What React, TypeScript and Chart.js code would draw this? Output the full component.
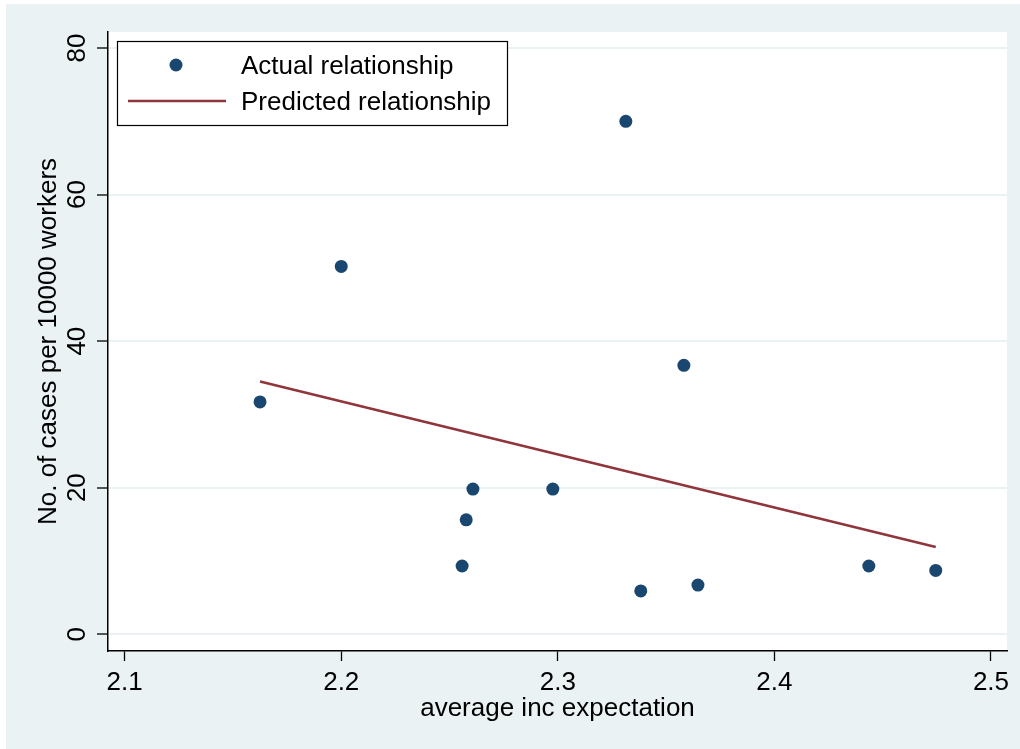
import React, { useEffect, useRef } from 'react';
import { Chart, registerables } from 'chart.js';

Chart.register(...registerables);

// ---- data ----
const xValues = [2.1625, 2.2, 2.3314, 2.3582, 2.2608, 2.2977, 2.2577, 2.2558, 2.3383, 2.3647, 2.4436, 2.4745];
const yValues = [31.7, 50.2, 70.0, 36.7, 19.8, 19.8, 15.6, 9.3, 5.9, 6.7, 9.3, 8.7];
const fitX = [2.1625, 2.4745];
const fitY = [34.5, 11.9];
const xTicks = [2.1, 2.2, 2.3, 2.4, 2.5];
const yTicks = [0, 20, 40, 60, 80];
const seriesLabels = ['Actual relationship', 'Predicted relationship'];
const xTitle = 'average inc expectation';
const yTitle = 'No. of cases per 10000 workers';

const FONT = '"Liberation Sans", Arial, Helvetica, sans-serif';
const FS = 26;
const NAVY = '#1a476f';
const MAROON = '#90353b';
const BG = '#eaf2f3';

const bgPlugin = {
  id: 'bgPlugin',
  beforeDraw(chart: any) {
    const { ctx, chartArea: a, width, height } = chart;
    ctx.save();
    ctx.fillStyle = '#ffffff';
    ctx.fillRect(0, 0, width, height);
    ctx.fillStyle = BG;
    ctx.fillRect(6, 4, width - 6, height - 4);
    ctx.fillStyle = '#ffffff';
    ctx.fillRect(a.left, a.top, a.right - a.left, a.bottom - a.top);
    ctx.restore();
  },
};

const yLabelPlugin = {
  id: 'yLabelPlugin',
  afterDraw(chart: any) {
    const { ctx } = chart;
    const ys = chart.scales.y;
    ctx.save();
    ctx.fillStyle = '#000000';
    ctx.font = `${FS}px ${FONT}`;
    ctx.textAlign = 'center';
    ctx.textBaseline = 'middle';
    ys.ticks.forEach((t: any) => {
      const py = ys.getPixelForValue(t.value);
      ctx.save();
      ctx.translate(78, py);
      ctx.rotate(-Math.PI / 2);
      ctx.fillText(String(t.value), 0, 0);
      ctx.restore();
    });
    ctx.restore();
  },
};

const legendPlugin = {
  id: 'boxLegend',
  afterDraw(chart: any) {
    const { ctx } = chart;
    const ds = chart.data.datasets;
    const left = 117.5, top = 41.5, right = 507.5, bottom = 125.5;
    ctx.save();
    ctx.fillStyle = '#ffffff';
    ctx.fillRect(left, top, right - left, bottom - top);
    ctx.strokeStyle = '#000000';
    ctx.lineWidth = 1.2;
    ctx.strokeRect(left, top, right - left, bottom - top);
    ctx.fillStyle = ds[0].backgroundColor;
    ctx.beginPath();
    ctx.arc(176, 65, 6.5, 0, Math.PI * 2);
    ctx.fill();
    ctx.strokeStyle = ds[1].borderColor;
    ctx.lineWidth = 2.5;
    ctx.beginPath();
    ctx.moveTo(128, 101);
    ctx.lineTo(226, 101);
    ctx.stroke();
    ctx.fillStyle = '#000000';
    ctx.font = `${FS}px ${FONT}`;
    ctx.textAlign = 'left';
    ctx.textBaseline = 'middle';
    ctx.fillText(ds[0].label, 241, 67);
    ctx.fillText(ds[1].label, 241, 103);
    ctx.restore();
  },
};

export default function App() {
  const ref = useRef<HTMLCanvasElement | null>(null);
  useEffect(() => {
    if (!ref.current) return;
    const chart = new Chart(ref.current, {
      type: 'scatter',
      data: {
        datasets: [
          {
            type: 'scatter',
            label: seriesLabels[0],
            data: xValues.map((x, i) => ({ x, y: yValues[i] })),
            backgroundColor: NAVY,
            borderColor: NAVY,
            borderWidth: 0,
            pointRadius: 6.5,
            pointHoverRadius: 6.5,
          },
          {
            type: 'line',
            label: seriesLabels[1],
            data: fitX.map((x, i) => ({ x, y: fitY[i] })),
            borderColor: MAROON,
            backgroundColor: MAROON,
            borderWidth: 2.5,
            pointRadius: 0,
            fill: false,
            showLine: true,
          } as any,
        ],
      },
      options: {
        animation: false,
        responsive: false,
        events: [],
        layout: { padding: { left: 0, top: 32, right: 13, bottom: 0 } },
        plugins: {
          legend: { display: false },
          tooltip: { enabled: false },
        },
        scales: {
          x: {
            type: 'linear',
            min: 2.0923,
            max: 2.5074,
            afterBuildTicks: (s: any) => {
              s.ticks = xTicks.map((v) => ({ value: v }));
            },
            afterFit: (s: any) => {
              s.height = 98;
            },
            border: { display: true, color: '#000000', width: 1.5 },
            grid: {
              drawOnChartArea: false,
              drawTicks: true,
              tickLength: 10,
              tickColor: '#000000',
              tickWidth: 1.3,
            },
            ticks: {
              color: '#000000',
              font: { family: FONT, size: FS },
              padding: 6,
              maxRotation: 0,
              minRotation: 0,
              autoSkip: false,
              callback: (v: any) => String(v),
            },
            title: {
              display: true,
              text: xTitle,
              color: '#000000',
              font: { family: FONT, size: FS },
              padding: { top: 0, bottom: 25 },
            },
          },
          y: {
            type: 'linear',
            min: -2.3,
            max: 82.2,
            afterBuildTicks: (s: any) => {
              s.ticks = yTicks.map((v) => ({ value: v }));
            },
            afterFit: (s: any) => {
              s.width = 108;
            },
            border: { display: true, color: '#000000', width: 1.5 },
            grid: {
              drawOnChartArea: true,
              color: BG,
              lineWidth: 2,
              drawTicks: true,
              tickLength: 11,
              tickColor: '#000000',
              tickWidth: 1.3,
            },
            ticks: { display: false },
            title: {
              display: true,
              text: yTitle,
              color: '#000000',
              font: { family: FONT, size: FS },
              padding: { top: 33, bottom: 0 },
            },
          },
        },
      },
      plugins: [bgPlugin, yLabelPlugin, legendPlugin],
    });
    return () => chart.destroy();
  }, []);
  return (
    <div style={{ position: 'absolute', left: 0, top: 0, width: 1020, height: 749 }}>
      <canvas ref={ref} width={1020} height={749} style={{ display: 'block' }} />
    </div>
  );
}
